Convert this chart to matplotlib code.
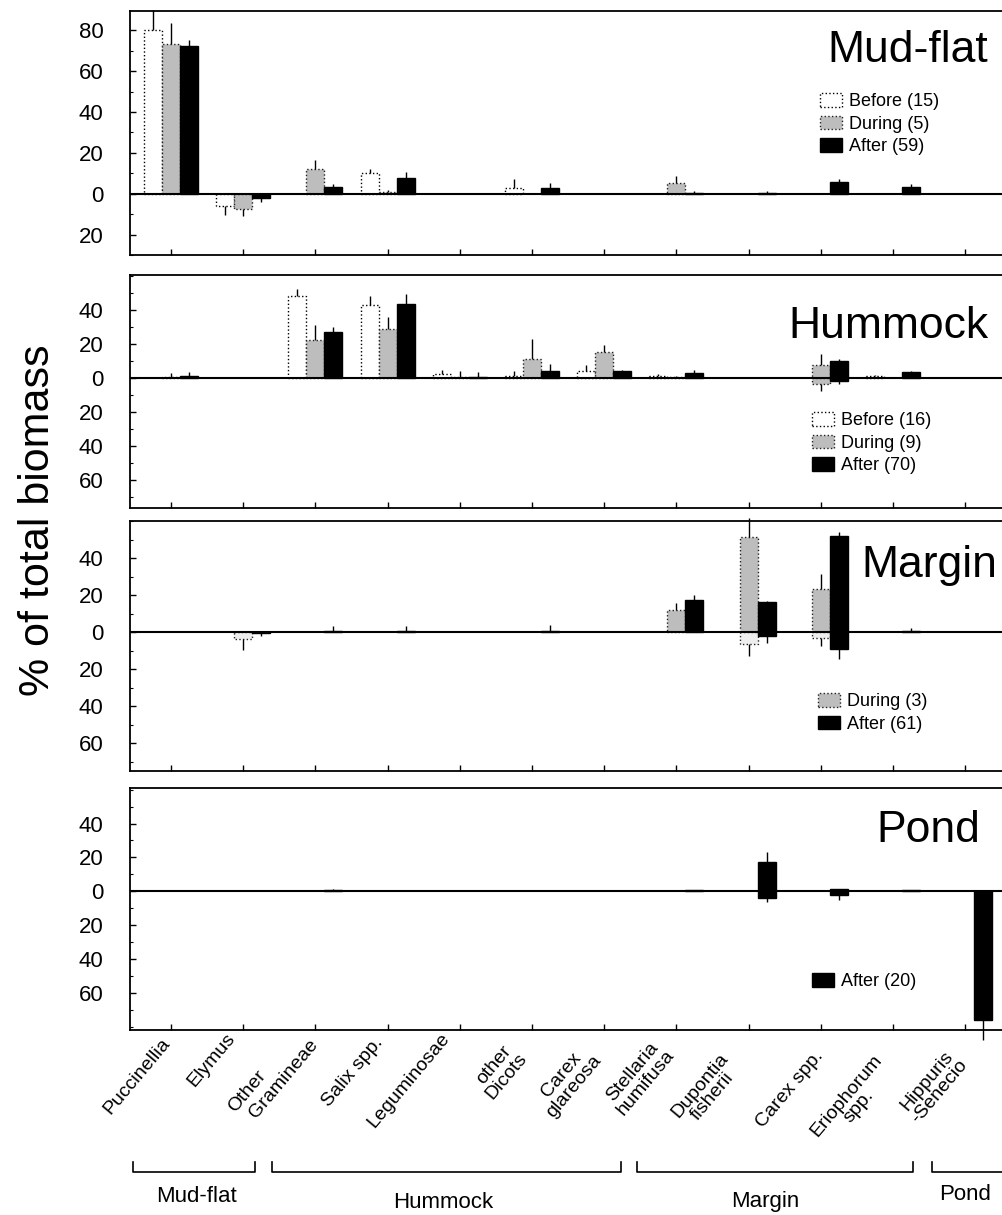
import numpy as np
import matplotlib
matplotlib.use("Agg")
import matplotlib.pyplot as plt
from matplotlib.patches import Patch
from matplotlib.ticker import FuncFormatter, MultipleLocator
from matplotlib.transforms import blended_transform_factory

plt.rcParams['font.family'] = ['Liberation Sans', 'DejaVu Sans']

# category labels under the bottom panel ("Other" sits between Elymus and Gramineae)
labels = ["Puccinellia", "Elymus", "Other", "Gramineae", "Salix spp.", "Leguminosae",
          "other\nDicots", "Carex\nglareosa", "Stellaria\nhumifusa", "Dupontia\nfisherii",
          "Carex spp.", "Eriophorum\nspp.", "Hippuris\n-Senecio"]
groups = ["Mud-flat", "Hummock", "Margin", "Pond"]
n_cat = 12
zeros = [0] * n_cat

# Mud-flat
mud_before      = [80, 0, 0, 10, 0, 3, 0, 0, 0, 0, 0, 0]
mud_before_err  = [10, 0, 0, 2, 0, 4, 0, 0, 0, 0, 0, 0]
mud_before_neg  = [0, -6, 0, 0, 0, 0, 0, 0, 0, 0, 0, 0]
mud_before_nerr = [0, 4.5, 0, 0, 0, 0, 0, 0, 0, 0, 0, 0]
mud_during      = [73.5, 0, 12, 1, 0, 0, 0, 5.5, 0, 0, 0, 0]
mud_during_err  = [10, 0, 4.5, 0.8, 0, 0, 0, 3, 0, 0, 0, 0]
mud_during_neg  = [0, -7.5, 0, 0, 0, 0, 0, 0, 0, 0, 0, 0]
mud_during_nerr = [0, 3.5, 0, 0, 0, 0, 0, 0, 0, 0, 0, 0]
mud_after       = [72.5, 0, 3.2, 7.5, 0, 3, 0, 0.6, 0.6, 5.7, 3.4, 0]
mud_after_err   = [2.8, 0, 1.7, 3, 0, 2.4, 0, 0.5, 0.5, 1.5, 1.2, 0]
mud_after_neg   = [0, -2, 0, 0, 0, 0, 0, 0, 0, 0, 0, 0]
mud_after_nerr  = [0, 1.8, 0, 0, 0, 0, 0, 0, 0, 0, 0, 0]

# Hummock
hum_before      = [0, 0, 48, 43, 2, 1, 4.3, 1.2, 0, 0, 1.0, 0]
hum_before_err  = [0, 0, 4.5, 5.3, 2.7, 3.3, 3.5, 1.0, 0, 0, 0.5, 0]
hum_during      = [0.3, 0, 22.5, 28.7, 0.3, 11.3, 15, 0.8, 0, 7.8, 0, 0]
hum_during_err  = [2.5, 0, 8.7, 7, 4, 11.7, 4.4, 0.5, 0, 6.2, 0, 0]
hum_during_neg  = [0, 0, 0, 0, 0, 0, 0, 0, 0, -3.5, 0, 0]
hum_during_nerr = [0, 0, 0, 0, 0, 0, 0, 0, 0, 4, 0, 0]
hum_after       = [1, 0, 26.7, 43.3, 0.3, 4.3, 3.9, 2.9, 0, 10, 3.5, 0]
hum_after_err   = [2.5, 0, 3.5, 6, 3.2, 4, 0.5, 1.8, 0, 1.2, 0.8, 0]
hum_after_neg   = [0, 0, 0, 0, 0, 0, 0, 0, 0, -2, 0, 0]
hum_after_nerr  = [0, 0, 0, 0, 0, 0, 0, 0, 0, 1.5, 0, 0]

# Margin
mar_during      = [0, 0, 0, 0, 0, 0, 0, 12.2, 51.5, 23.3, 0, 0]
mar_during_err  = [0, 0, 0, 0, 0, 0, 0, 3.3, 10, 8, 0, 0]
mar_during_neg  = [0, -3.6, 0, 0, 0, 0, 0, 0, -6.4, -3.3, 0, 0]
mar_during_nerr = [0, 6, 0, 0, 0, 0, 0, 0, 6.3, 4, 0, 0]
mar_after       = [0, 0, 0.8, 0.8, 0, 0.8, 0, 17.6, 16, 52, 0.8, 0]
mar_after_err   = [0, 0, 2.5, 2.5, 0, 3, 0, 2.4, 0.8, 1.8, 1.5, 0]
mar_after_neg   = [0, -0.3, 0, 0, 0, 0, 0, 0, -2.2, -9.1, 0, 0]
mar_after_nerr  = [0, 2, 0, 0, 0, 0, 0, 0, 3.8, 5.4, 0, 0]

# Pond
pond_after      = [0, 0, 0.8, 0, 0, 0, 0, 0.5, 17.5, 1.3, 0.6, 0]
pond_after_err  = [0, 0, 0.5, 0, 0, 0, 0, 0.3, 5.4, 0, 0.3, 0]
pond_after_neg  = [0, 0, 0, 0, 0, 0, 0, 0, -3.9, -2.3, 0, -76]
pond_after_nerr = [0, 0, 0, 0, 0, 0, 0, 0, 2.3, 2.6, 0, 12]

# styles
before_style = dict(facecolor="white", edgecolor="black", linewidth=1.0, linestyle=":")
during_style = dict(facecolor="#bdbdbd", edgecolor="#222222", linewidth=1.0, linestyle=":")
after_style = dict(facecolor="black", edgecolor="black", linewidth=1.0)

W, H = 1002, 1215
fig = plt.figure(figsize=(W / 100, H / 100), dpi=100)

x = np.arange(n_cat)
bw = 0.25
px_per_unit = 72.2
ax_left, ax_right = 130, 1010
xlim = (-(171 - ax_left) / px_per_unit, -(171 - ax_left) / px_per_unit + (ax_right - ax_left) / px_per_unit)


def make_axes(top, bottom):
    return fig.add_axes([ax_left / W, 1 - bottom / H, (ax_right - ax_left) / W, (bottom - top) / H])


def draw(ax, offset, pos, pos_err, neg, neg_err, style, neg_face=None):
    xs = x + offset
    pos = np.asarray(pos, float)
    neg = np.asarray(neg, float)
    pe = np.asarray(pos_err, float)
    ne = np.asarray(neg_err, float)
    m = pos != 0
    ax.bar(xs[m], pos[m], width=bw, **style)
    st = dict(style)
    if neg_face is not None:
        st["facecolor"] = neg_face
    m = neg != 0
    ax.bar(xs[m], neg[m], width=bw, **st)
    m = pe > 0
    ax.errorbar(xs[m], pos[m], yerr=[np.zeros(m.sum()), pe[m]], fmt="none",
                ecolor="black", elinewidth=1, capsize=0, clip_on=False)
    m = ne > 0
    ax.errorbar(xs[m], neg[m], yerr=[ne[m], np.zeros(m.sum())], fmt="none",
                ecolor="black", elinewidth=1, capsize=0, clip_on=False)


def style_axes(ax, ylim, yticks, title, title_xy, handles, leg_names, leg_xy):
    ax.set_xlim(*xlim)
    ax.set_ylim(*ylim)
    ax.axhline(0, color="black", lw=1.5, zorder=1)
    ax.set_xticks(x)
    ax.set_xticklabels([])
    ax.set_yticks(yticks)
    ax.yaxis.set_minor_locator(MultipleLocator(10))
    ax.yaxis.set_major_formatter(FuncFormatter(lambda v, p: "%d" % abs(v)))
    ax.tick_params(axis="both", which="major", direction="in", length=4, width=1)
    ax.tick_params(axis="y", which="major", labelsize=16, pad=19)
    ax.tick_params(axis="y", which="minor", direction="in", length=2, width=0.8)
    ax.spines["right"].set_visible(False)
    for s in ("left", "top", "bottom"):
        ax.spines[s].set_linewidth(1.3)
    fig.text(title_xy[0] / W, 1 - title_xy[1] / H, title, fontsize=32,
             ha="right", va="baseline")
    ax.legend(handles, leg_names, loc="upper left",
              bbox_to_anchor=(leg_xy[0] / W, 1 - leg_xy[1] / H),
              bbox_transform=fig.transFigure, frameon=False, fontsize=13,
              borderpad=0, borderaxespad=0, handlelength=1.2, handleheight=0.8,
              handletextpad=0.4, labelspacing=0.3)


hb = Patch(**before_style)
hd = Patch(**during_style)
ha = Patch(**after_style)

# Mud-flat panel
ax1 = make_axes(11, 255)
draw(ax1, -bw, mud_before, mud_before_err, mud_before_neg, mud_before_nerr, before_style)
draw(ax1, 0, mud_during, mud_during_err, mud_during_neg, mud_during_nerr, during_style)
draw(ax1, bw, mud_after, mud_after_err, mud_after_neg, mud_after_nerr, after_style)
style_axes(ax1, (-30, 89.5), [-20, 0, 20, 40, 60, 80], "Mud-flat", (988, 62),
           [hb, hd, ha], ["Before (15)", "During (5)", "After (59)"], (820, 93))

# Hummock panel
ax2 = make_axes(275, 508)
draw(ax2, -bw, hum_before, hum_before_err, zeros, zeros, before_style)
draw(ax2, 0, hum_during, hum_during_err, hum_during_neg, hum_during_nerr, during_style)
draw(ax2, bw, hum_after, hum_after_err, hum_after_neg, hum_after_nerr, after_style)
style_axes(ax2, (-76.5, 60.5), [-60, -40, -20, 0, 20, 40], "Hummock", (988, 338),
           [hb, hd, ha], ["Before (16)", "During (9)", "After (70)"], (812, 412))

# Margin panel
ax3 = make_axes(521, 771)
draw(ax3, 0, mar_during, mar_during_err, mar_during_neg, mar_during_nerr, during_style,
     neg_face="#eeeeee")
draw(ax3, bw, mar_after, mar_after_err, mar_after_neg, mar_after_nerr, after_style)
style_axes(ax3, (-75, 60), [-60, -40, -20, 0, 20, 40], "Margin", (997, 577),
           [hd, ha], ["During (3)", "After (61)"], (818, 693))

# Pond panel
ax4 = make_axes(788, 1030)
draw(ax4, bw, pond_after, pond_after_err, pond_after_neg, pond_after_nerr, after_style)
style_axes(ax4, (-82, 61), [-60, -40, -20, 0, 20, 40], "Pond", (980, 842),
           [ha], ["After (20)"], (812, 973))

fig.text(38 / W, 1 - 520 / H, "% of total biomass", rotation=90, fontsize=31,
         ha="center", va="center")

# rotated category labels below the bottom panel
tr = blended_transform_factory(ax4.transData, fig.transFigure)
label_x = [-0.06, 0.85, 1.27, 2.0, 2.89, 3.82, 4.8, 5.83, 6.84, 7.76, 8.99, 9.89, 10.9]
label_y = [1040, 1035, 1073, 1042, 1040, 1035, 1050, 1052, 1047, 1061, 1053, 1062, 1057]
for lab, lx, ly in zip(labels, label_x, label_y):
    fig.text(lx, 1 - ly / H, lab, transform=tr, rotation=50, rotation_mode="anchor",
             ha="right", va="center", multialignment="center", fontsize=14,
             linespacing=1.0)

# group brackets
bracket_x = [(-0.53, 1.16), (1.40, 6.23), (6.45, 10.28), (10.54, 11.6)]
group_x = [0.35, 3.77, 8.23, 11.0]
group_y = [1197, 1202, 1202, 1195]
y_top, y_bot = 1 - 1162 / H, 1 - 1172 / H
for (a, b), gname, gx, gy in zip(bracket_x, groups, group_x, group_y):
    ax4.plot([a, a, b, b], [y_top, y_bot, y_bot, y_top], color="black", lw=1.2,
             transform=tr, clip_on=False)
    fig.text(gx, 1 - gy / H, gname, transform=tr, ha="center", va="center", fontsize=16)

fig.savefig("out.png", dpi=100)
